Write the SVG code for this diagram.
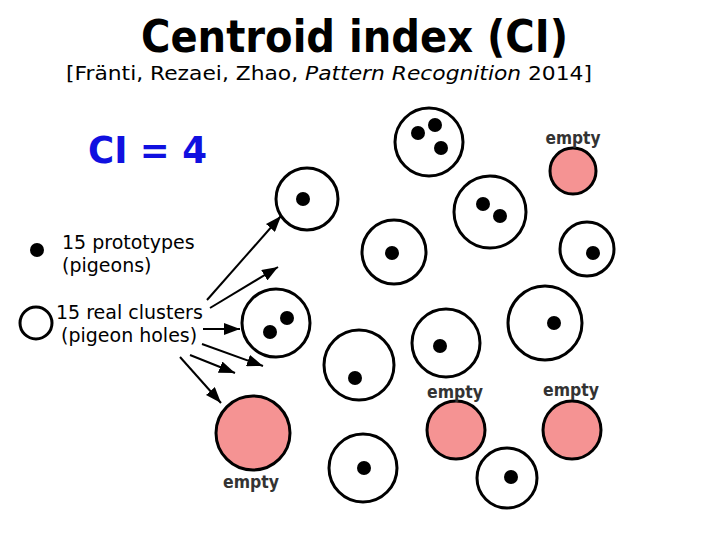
<svg xmlns="http://www.w3.org/2000/svg" width="720" height="540" viewBox="0 0 720 540">
  <style>
    .hole { fill: #ffffff; stroke: #000000; stroke-width: 3; }
    .empty { fill: #f59393; stroke: #000000; stroke-width: 3; }
    .dot { fill: #000000; }
    .lbl { font-family: "DejaVu Sans", Verdana, sans-serif; font-weight: bold; font-size: 18px; fill: #333333; text-anchor: middle; }
    .leg { font-family: "DejaVu Sans", Verdana, sans-serif; font-size: 19px; fill: #000000; }
    .arr { stroke: #000000; stroke-width: 2; fill: none; marker-end: url(#ah); }
  </style>
  <defs>
    <marker id="ah" viewBox="0 0 16 12" refX="16" refY="6" markerWidth="16" markerHeight="12" markerUnits="userSpaceOnUse" orient="auto">
      <path d="M0,0 L16,6 L0,12 z" fill="#000000"/>
    </marker>
  </defs>
  <rect width="720" height="540" fill="#ffffff"/>

  <g id="title">
    <text x="141" y="52" font-family="'DejaVu Sans', Verdana, sans-serif" font-weight="bold" font-size="44" textLength="427" lengthAdjust="spacingAndGlyphs" fill="#000">Centroid index (CI)</text>
    <text x="66" y="80" font-family="'DejaVu Sans', Verdana, sans-serif" font-size="20" textLength="526" lengthAdjust="spacingAndGlyphs" fill="#000">[Fränti, Rezaei, Zhao, <tspan font-style="italic">Pattern Recognition</tspan> 2014]</text>
  </g>

  <g id="ci-value">
    <text x="88" y="163" font-family="'DejaVu Sans', Verdana, sans-serif" font-weight="bold" font-size="38" textLength="119" lengthAdjust="spacingAndGlyphs" fill="#1010e0">CI = 4</text>
  </g>

  <g id="legend-prototype">
    <circle class="dot" cx="37" cy="250" r="7"/>
    <text class="leg" x="62" y="249">15 prototypes</text>
    <text class="leg" x="62" y="272">(pigeons)</text>
  </g>
  <g id="legend-cluster">
    <circle class="hole" cx="36" cy="323" r="16"/>
    <text class="leg" x="56" y="319">15 real clusters</text>
    <text class="leg" x="61" y="342">(pigeon holes)</text>
  </g>

  <g id="connectors">
    <line class="arr" x1="207" y1="300" x2="281" y2="216"/>
    <line class="arr" x1="210" y1="308" x2="278" y2="267"/>
    <line class="arr" x1="203" y1="329" x2="240" y2="329"/>
    <line class="arr" x1="202" y1="344" x2="263" y2="366"/>
    <line class="arr" x1="190" y1="355" x2="235" y2="373"/>
    <line class="arr" x1="180" y1="357" x2="221" y2="403"/>
  </g>

  <g id="c1">
    <circle class="hole" cx="429" cy="142" r="34"/>
    <circle class="dot" cx="418" cy="133" r="7"/>
    <circle class="dot" cx="435" cy="125" r="7"/>
    <circle class="dot" cx="441" cy="148" r="7"/>
  </g>
  <g id="c2">
    <circle class="empty" cx="573" cy="171" r="23"/>
    <text class="lbl" x="573" y="144" textLength="55" lengthAdjust="spacingAndGlyphs">empty</text>
  </g>
  <g id="c3">
    <circle class="hole" cx="307" cy="199" r="31"/>
    <circle class="dot" cx="303" cy="199" r="7"/>
  </g>
  <g id="c4">
    <circle class="hole" cx="490" cy="212" r="36"/>
    <circle class="dot" cx="483" cy="204" r="7"/>
    <circle class="dot" cx="500" cy="216" r="7"/>
  </g>
  <g id="c5">
    <circle class="hole" cx="394" cy="252" r="32"/>
    <circle class="dot" cx="392" cy="253" r="7"/>
  </g>
  <g id="c6">
    <circle class="hole" cx="587" cy="249" r="27"/>
    <circle class="dot" cx="593" cy="253" r="7"/>
  </g>
  <g id="c7">
    <circle class="hole" cx="276" cy="323" r="34"/>
    <circle class="dot" cx="287" cy="318" r="7"/>
    <circle class="dot" cx="270" cy="332" r="7"/>
  </g>
  <g id="c8">
    <circle class="hole" cx="359" cy="365" r="35"/>
    <circle class="dot" cx="355" cy="378" r="7"/>
  </g>
  <g id="c9">
    <circle class="hole" cx="446" cy="343" r="34"/>
    <circle class="dot" cx="440" cy="346" r="7"/>
  </g>
  <g id="c10">
    <circle class="hole" cx="545" cy="323" r="37"/>
    <circle class="dot" cx="554" cy="323" r="7"/>
  </g>
  <g id="c11">
    <circle class="empty" cx="253" cy="433" r="37"/>
    <text class="lbl" x="251" y="488" textLength="56" lengthAdjust="spacingAndGlyphs">empty</text>
  </g>
  <g id="c12">
    <circle class="hole" cx="363" cy="468" r="34"/>
    <circle class="dot" cx="364" cy="468" r="7"/>
  </g>
  <g id="c13">
    <circle class="empty" cx="456" cy="430" r="29"/>
    <text class="lbl" x="455" y="398" textLength="56" lengthAdjust="spacingAndGlyphs">empty</text>
  </g>
  <g id="c14">
    <circle class="empty" cx="572" cy="430" r="29"/>
    <text class="lbl" x="571" y="396" textLength="56" lengthAdjust="spacingAndGlyphs">empty</text>
  </g>
  <g id="c15">
    <circle class="hole" cx="507" cy="478" r="30"/>
    <circle class="dot" cx="511" cy="477" r="7"/>
  </g>
</svg>
